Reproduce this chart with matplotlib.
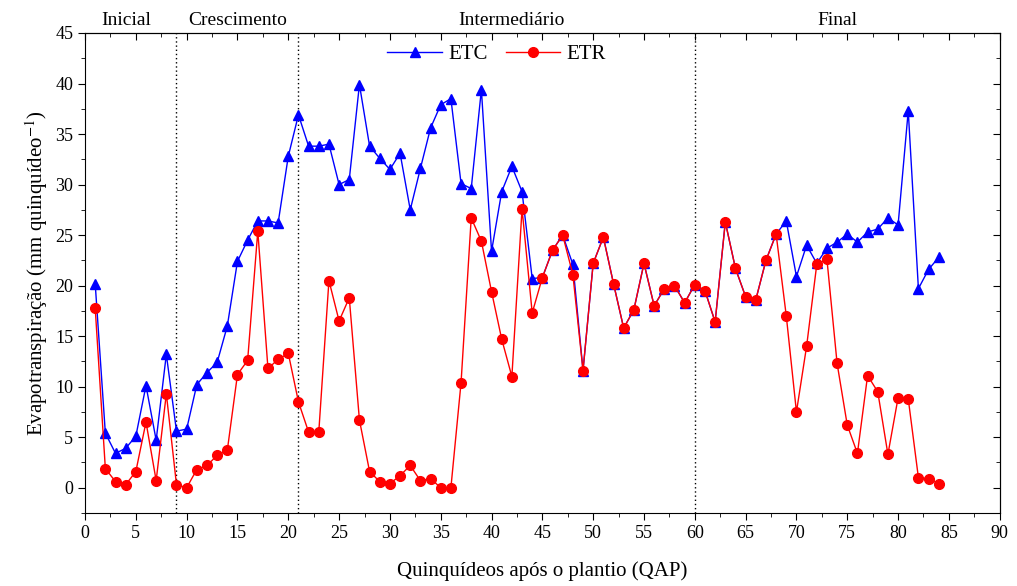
import numpy as np
import matplotlib.pyplot as plt
from matplotlib.ticker import MultipleLocator

# quinquídeos após o plantio
qap = list(range(1, 85))

etc = [20.2, 5.4, 3.4, 3.9, 5.1, 10.1, 4.7, 13.2, 5.6, 5.8,
       10.2, 11.4, 12.4, 16.0, 22.4, 24.5, 26.4, 26.4, 26.2, 32.8,
       36.9, 33.8, 33.8, 34.0, 30.0, 30.5, 39.9, 33.8, 32.6, 31.5,
       33.1, 27.5, 31.6, 35.6, 37.9, 38.5, 30.1, 29.6, 39.4, 23.4,
       29.3, 31.8, 29.3, 20.7, 20.8, 23.5, 25.0, 22.1, 11.6, 22.2,
       24.8, 20.2, 15.8, 17.6, 22.2, 18.0, 19.7, 20.0, 18.3, 20.1,
       19.5, 16.4, 26.3, 21.7, 18.9, 18.6, 22.5, 25.1, 26.4, 20.9,
       24.0, 22.2, 23.7, 24.3, 25.1, 24.3, 25.3, 25.6, 26.7, 26.0,
       37.3, 19.7, 21.6, 22.8]

etr = [17.8, 1.9, 0.6, 0.3, 1.6, 6.5, 0.7, 9.3, 0.3, 0.0,
       1.8, 2.2, 3.2, 3.7, 11.2, 12.6, 25.4, 11.8, 12.7, 13.3,
       8.5, 5.5, 5.5, 20.5, 16.5, 18.8, 6.7, 1.6, 0.6, 0.4,
       1.2, 2.2, 0.7, 0.9, 0.0, 0.0, 10.4, 26.7, 24.4, 19.4,
       14.7, 11.0, 27.6, 17.3, 20.8, 23.5, 25.0, 21.1, 11.6, 22.2,
       24.8, 20.2, 15.8, 17.6, 22.2, 18.0, 19.7, 20.0, 18.3, 20.1,
       19.5, 16.4, 26.3, 21.7, 18.9, 18.6, 22.5, 25.1, 17.0, 7.5,
       14.0, 22.1, 22.6, 12.3, 6.2, 3.4, 11.1, 9.5, 3.3, 8.9,
       8.8, 1.0, 0.9, 0.4]

# fases da cultura
fase_nomes = ["Inicial", "Crescimento", "Intermediário", "Final"]
fase_pos = [4.1, 15.0, 42.0, 74.0]
fase_limites = [9, 21, 60]

plt.rcParams["font.family"] = ["Liberation Serif", "DejaVu Serif"]
plt.rcParams["mathtext.fontset"] = "stix"

fig = plt.figure(figsize=(10.17, 5.86), dpi=100)
ax = fig.add_axes([0.0836, 0.1246, 0.8994, 0.8191])

ax.plot(qap, etc, color="#0000ff", lw=1.0, marker="^", ms=7.5, label="ETC")
ax.plot(qap, etr, color="#ff0000", lw=1.0, marker="o", ms=7, label="ETR")

for xv in fase_limites:
    ax.axvline(xv, color="black", ls=(0, (1, 2)), lw=1.0, zorder=0)

for nome, xp in zip(fase_nomes, fase_pos):
    ax.text(xp, 45.4, nome, ha="center", va="bottom", fontsize=14)

ax.set_xlim(0, 90)
ax.set_ylim(-2.5, 45)
ax.xaxis.set_major_locator(MultipleLocator(5))
ax.xaxis.set_minor_locator(MultipleLocator(2.5))
ax.yaxis.set_major_locator(MultipleLocator(5))
ax.yaxis.set_minor_locator(MultipleLocator(2.5))
ax.tick_params(which="both", direction="out", labelsize=13)
ax.tick_params(which="major", length=5)
ax.tick_params(which="minor", length=3)

ax2 = ax.secondary_xaxis("top")
ax2.xaxis.set_major_locator(MultipleLocator(5))
ax2.xaxis.set_minor_locator(MultipleLocator(2.5))
ax2.tick_params(which="both", direction="in", labeltop=False)
ax2.tick_params(which="major", length=5)
ax2.tick_params(which="minor", length=3)
ay2 = ax.secondary_yaxis("right")
ay2.yaxis.set_major_locator(MultipleLocator(5))
ay2.yaxis.set_minor_locator(MultipleLocator(2.5))
ay2.tick_params(which="both", direction="in", labelright=False)
ay2.tick_params(which="major", length=5)
ay2.tick_params(which="minor", length=3)

ax.set_xlabel("Quinquídeos após o plantio (QAP)", fontsize=15, labelpad=14)
ax.set_ylabel("Evapotranspiração (mm quinquídeo$^{-1}$)", fontsize=15)

ax.legend(loc="upper center", bbox_to_anchor=(0.45, 1.015), ncol=2, frameon=False,
          fontsize=15, handlelength=2.6, columnspacing=0.9, handletextpad=0.3)

fig.savefig("out.png", dpi=100)
